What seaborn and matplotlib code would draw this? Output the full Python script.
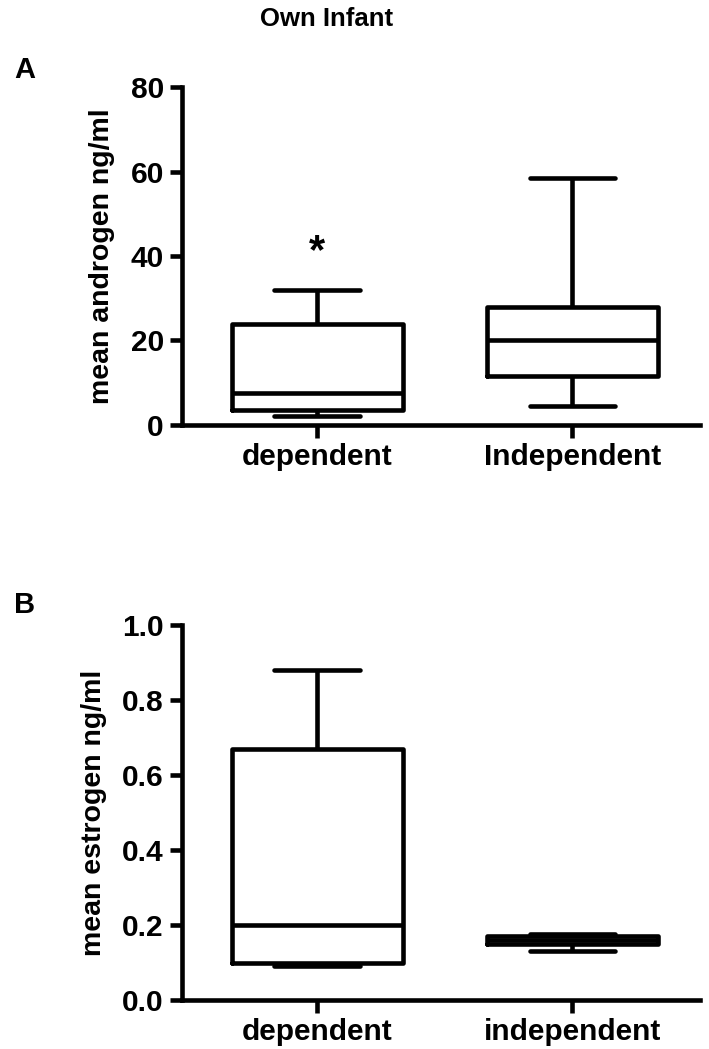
import matplotlib
matplotlib.use("Agg")
import matplotlib.pyplot as plt
import seaborn as sns
import pandas as pd

# ---- data (five-number summaries) ----
categories_a = ["dependent", "Independent"]
androgen_dependent = [2.0, 3.5, 7.5, 24.0, 32.0]
androgen_independent = [4.5, 11.5, 20.0, 28.0, 58.5]

categories_b = ["dependent", "independent"]
estrogen_dependent = [0.09, 0.10, 0.20, 0.67, 0.88]
estrogen_independent = [0.13, 0.15, 0.16, 0.17, 0.175]

title = "Own Infant"
ylabel_a = "mean androgen ng/ml"
ylabel_b = "mean estrogen ng/ml"
yticks_a = [0, 20, 40, 60, 80]
yticks_b = [0.0, 0.2, 0.4, 0.6, 0.8, 1.0]
star_value = 41.0

sns.set_theme(style="white")
plt.rcParams['font.family'] = ['Liberation Sans', 'DejaVu Sans']
plt.rcParams['font.weight'] = 'bold'
for k in ['text.color', 'axes.labelcolor', 'xtick.color', 'ytick.color', 'axes.edgecolor']:
    plt.rcParams[k] = 'black'

df_a = pd.DataFrame({
    "group": [categories_a[0]] * len(androgen_dependent) + [categories_a[1]] * len(androgen_independent),
    "value": androgen_dependent + androgen_independent,
})
df_b = pd.DataFrame({
    "group": [categories_b[0]] * len(estrogen_dependent) + [categories_b[1]] * len(estrogen_independent),
    "value": estrogen_dependent + estrogen_independent,
})

fig = plt.figure(figsize=(7.09, 10.49), dpi=100)
ax_a = fig.add_axes([0.2567, 0.595, 0.7306, 0.322])
ax_b = fig.add_axes([0.2567, 0.0467, 0.7306, 0.3575])

LW = 3.3
FS = 21.5
box_kw = dict(
    whis=(0, 100), width=0.67, fill=False, color="black", linewidth=LW,
    showfliers=False,
)

for ax, df, order, yt, ylab in [
    (ax_a, df_a, categories_a, yticks_a, ylabel_a),
    (ax_b, df_b, categories_b, yticks_b, ylabel_b),
]:
    sns.boxplot(data=df, x="group", y="value", order=order, ax=ax, **box_kw)
    ax.set_xlim(-0.53, 1.50)
    ax.set_ylim(yt[0], yt[-1])
    ax.set_yticks(yt)
    ax.set_xlabel("")
    ax.set_ylabel(ylab, fontsize=20.5, fontweight="bold", labelpad=11, color="black")
    for s in ["top", "right"]:
        ax.spines[s].set_visible(False)
    for s in ["left", "bottom"]:
        ax.spines[s].set_linewidth(LW)
        ax.spines[s].set_color("black")
    ax.tick_params(axis="both", direction="out", length=9, width=LW, colors="black",
                   labelsize=FS, pad=4, left=True, bottom=True)
    for lab in ax.get_xticklabels() + ax.get_yticklabels():
        lab.set_fontweight("bold")
    ax.set_facecolor("white")

ax_b.set_yticklabels([f"{v:.1f}" for v in yticks_b])

ax_a.text(0, star_value, "*", ha="center", va="center", fontsize=30, fontweight="bold")

fig.text(0.46, 0.982, title, ha="center", va="center", fontsize=18.5, fontweight="bold")
fig.text(0.02, 0.933, "A", ha="left", va="center", fontsize=21, fontweight="bold")
fig.text(0.02, 0.423, "B", ha="left", va="center", fontsize=21, fontweight="bold")

fig.savefig("out.png", dpi=100, facecolor="white")
